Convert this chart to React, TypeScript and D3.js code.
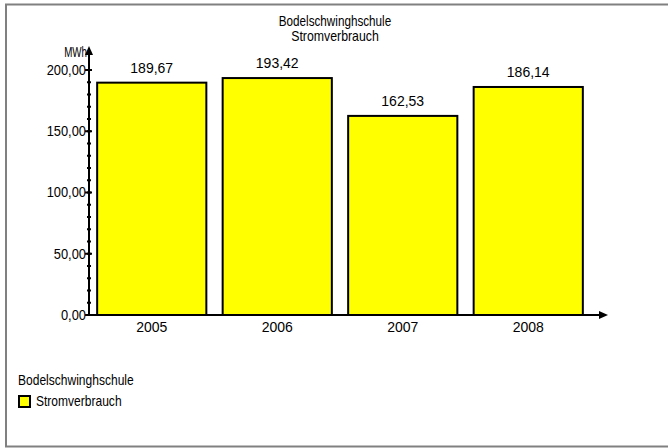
import React from "react";
import * as d3 from "d3";

const categories = ["2005", "2006", "2007", "2008"];
const values = [189.67, 193.42, 162.53, 186.14];
const yTicks = [0, 50, 100, 150, 200];
const minorTicks = d3.range(0, 201, 10);
const title = "Bodelschwinghschule";
const subtitle = "Stromverbrauch";
const unit = "MWh";

const fmt = (v: number) => v.toFixed(2).replace(".", ",");

function T(props: { x: number; y: number; s?: number; size: number; anchor?: string; dy?: string; children: React.ReactNode }) {
  const { x, y, s = 1, size, anchor = "start", dy, children } = props;
  return (
    <text x={x} y={y} dy={dy} fontSize={size} textAnchor={anchor}
      transform={`translate(${x},0) scale(${s},1) translate(${-x},0)`}>{children}</text>
  );
}

export default function App() {
  const W = 668, H = 448;
  const x0 = 89, x1 = 591, y0 = 315, yTop = 70;
  const y = d3.scaleLinear().domain([0, 200]).range([y0, yTop]);
  const x = d3.scaleBand().domain(categories).range([x0, x1]).paddingInner(0.13).paddingOuter(0.065);
  const font = "'Liberation Sans', Arial, sans-serif";
  return (
    <svg width={W} height={H} style={{ position: "absolute", left: 0, top: 0, background: "#fff" }} fontFamily={font}>
      <rect x={6} y={4.5} width={720} height={442} fill="#fff" stroke="#808080" strokeWidth={2} />
      <T x={335} y={26} size={15} s={0.78} anchor="middle">{title}</T>
      <T x={335} y={41} size={14} s={0.88} anchor="middle">{subtitle}</T>
      {values.map((v, i) => (
        <g key={i}>
          <rect x={x(categories[i])} y={y(v)} width={x.bandwidth()} height={y0 - y(v)} fill="#ffff00" stroke="#000" strokeWidth={2} />
          <T x={(x(categories[i]) as number) + x.bandwidth() / 2} y={y(v) - 10} size={14} anchor="middle">{fmt(v)}</T>
          <T x={(x(categories[i]) as number) + x.bandwidth() / 2} y={y0 + 17} size={14} anchor="middle">{categories[i]}</T>
        </g>
      ))}
      {/* y axis */}
      <line x1={x0} x2={x0} y1={y0 + 1} y2={52} stroke="#000" strokeWidth={2} />
      <path d={`M${x0},46 L${x0 - 4},55 L${x0 + 4},55 Z`} fill="#000" />
      {minorTicks.map((t) => (
        <line key={"m" + t} x1={x0 - 2} x2={x0 + 2} y1={y(t)} y2={y(t)} stroke="#000" strokeWidth={2} />
      ))}
      {yTicks.map((t) => (
        <g key={t}>
          <line x1={x0 - 4} x2={x0 + 3} y1={y(t)} y2={y(t)} stroke="#000" strokeWidth={2} />
          <T x={x0 - 3} y={y(t)} dy="0.35em" size={14} s={0.92} anchor="end">{fmt(t)}</T>
        </g>
      ))}
      <T x={x0 - 2} y={57} size={14} s={0.7} anchor="end">{unit}</T>
      {/* x axis */}
      <line x1={x0} x2={603} y1={y0} y2={y0} stroke="#000" strokeWidth={2} />
      <path d={`M608,${y0} L599,${y0 - 4} L599,${y0 + 4} Z`} fill="#000" />
      {/* legend */}
      <T x={18} y={385} size={14} s={0.86}>{title}</T>
      <rect x={19} y={396} width={11} height={11} fill="#ffff00" stroke="#000" strokeWidth={2} />
      <T x={36} y={406} size={14} s={0.86}>{subtitle}</T>
    </svg>
  );
}
